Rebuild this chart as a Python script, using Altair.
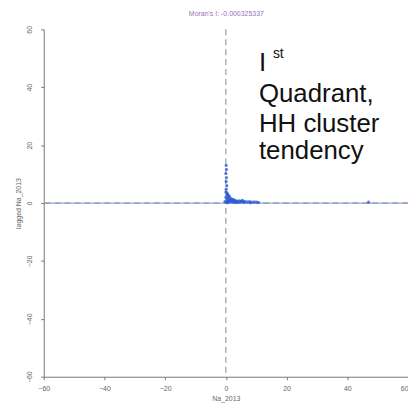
import altair as alt
import pandas as pd

# Data
pt_x = [0.1, 0.2, 0.0, 0.2, 0.1, 0.3, 0.1, 0.0, 0.4, 0.6, 0.9, 1.2, 0.3, 0.7, 1.5, 2.0, 2.4, 1.0,
        0.5, 1.8, 2.8, 3.3, 3.8, 4.4, 5.0, 5.6, 6.2, 7.0, 7.8, 8.6, 9.4, 10.2, 10.8, 1.3, 2.2,
        3.0, 4.0, 0.2, 0.8, 1.6, 2.6, 3.6, 4.8, 6.0, 0.4, 1.1, 0.0, 0.6, 47.0, -0.3, 5.4, 8.0]
pt_y = [13.0, 11.6, 10.2, 8.8, 7.4, 6.0, 4.8, 3.8, 3.5, 3.0, 2.6, 2.2, 2.8, 1.9, 1.6, 1.4, 1.2, 1.0,
        0.8, 0.9, 1.0, 0.8, 0.7, 0.8, 0.6, 0.5, 0.6, 0.4, 0.5, 0.3, 0.4, 0.3, 0.2, 0.4, 0.3,
        0.2, 0.2, 0.3, 0.5, 0.6, 0.5, 0.4, 0.3, 0.2, 1.5, 1.2, 2.0, 0.1, 0.3, 0.5, 0.9, 0.1]
reg_x = [-60, 60]
reg_y = [0.0, 0.0]
title_text = "Moran's I: -0.000325337"
quad_lines = ["I", "Quadrant,", "HH cluster", "tendency"]
quad_y = [45.6, 35.0, 24.7, 15.1]

pts = pd.DataFrame({"x": pt_x, "y": pt_y})
reg = pd.DataFrame({"x": reg_x, "y": reg_y})
quad = pd.DataFrame({"x": [10.9] * 4, "y": quad_y, "t": quad_lines})
sup = pd.DataFrame({"x": [15.5], "y": [50.1], "t": ["st"]})
zero = pd.DataFrame({"v": [0]})

xs = alt.Scale(domain=[-60, 60], nice=False, zero=False)
ys = alt.Scale(domain=[-60, 60], nice=False, zero=False)

axis_common = dict(grid=False, domainColor="#777777", tickColor="#777777", tickSize=3,
                   labelColor="#666666", labelFontSize=7, titleFontSize=7,
                   titleColor="#666666", titleFontWeight="normal", labelFont="Liberation Sans",
                   titleFont="Liberation Sans", values=[-60, -40, -20, 0, 20, 40, 60])

xaxis = alt.Axis(title="Na_2013", labelPadding=5, titlePadding=3, labelOverlap=False,
                 labelBound=False, labelFlush=False,
                 labelAlign={"condition": {"test": "datum.value >= 60", "value": "right"},
                             "value": "center"},
                 **axis_common)
yaxis = alt.Axis(title="lagged Na_2013", labelAngle=-90, labelAlign="center",
                 labelBaseline="bottom", labelPadding=8, titlePadding=4, labelOverlap=False,
                 labelFlush=False, **axis_common)

base_pts = alt.Chart(pts).mark_circle(size=10, color="#2a5bd7", opacity=0.8).encode(
    x=alt.X("x:Q", scale=xs, axis=xaxis),
    y=alt.Y("y:Q", scale=ys, axis=yaxis),
)

hline = alt.Chart(zero).mark_rule(color="#888888", strokeDash=[6, 4], strokeWidth=1).encode(
    y=alt.Y("v:Q", scale=ys))
vline = alt.Chart(zero).mark_rule(color="#888888", strokeDash=[6, 4], strokeWidth=1).encode(
    x=alt.X("v:Q", scale=xs))
regl = alt.Chart(reg).mark_line(color="#7f93c6", strokeWidth=1.2, opacity=0.8).encode(
    x=alt.X("x:Q", scale=xs), y=alt.Y("y:Q", scale=ys))

qtext = alt.Chart(quad).mark_text(align="left", baseline="alphabetic", fontSize=26,
                                  font="Liberation Sans", color="#111111").encode(
    x=alt.X("x:Q", scale=xs), y=alt.Y("y:Q", scale=ys), text="t:N")
stext = alt.Chart(sup).mark_text(align="left", baseline="alphabetic", fontSize=14,
                                 font="Liberation Sans", color="#111111").encode(
    x=alt.X("x:Q", scale=xs), y=alt.Y("y:Q", scale=ys), text="t:N")

ttl = alt.Chart(pd.DataFrame({"t": [title_text]})).mark_text(
    fontSize=7, color="#a070b8", font="Liberation Sans", align="center").encode(
    x=alt.value(184), y=alt.value(-15), text="t:N")

chart = alt.layer(hline, vline, regl, base_pts, qtext, stext, ttl).properties(
    width=367, height=350,
    autosize=alt.AutoSizeParams(type="none"),
    padding={"left": 36, "top": 20, "right": 0, "bottom": 28},
).configure_view(stroke=None).configure_axis(domainWidth=1)

chart.save("out.html", embed_options={"renderer": "svg", "actions": False})
